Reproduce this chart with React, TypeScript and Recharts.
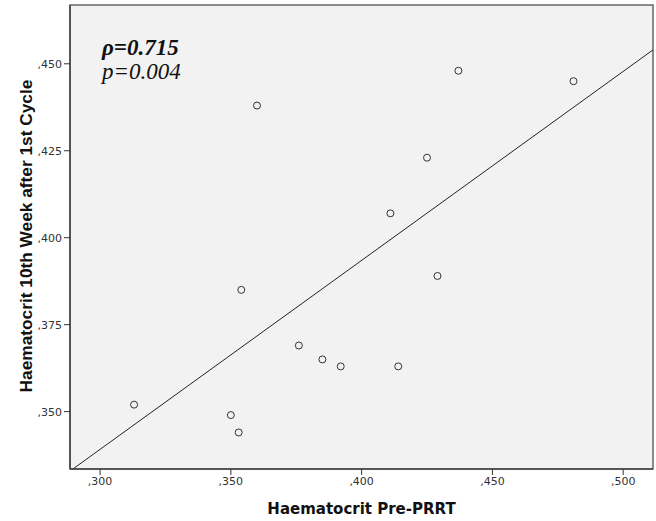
import {
  Label,
  ReferenceArea,
  ReferenceLine,
  Scatter,
  ScatterChart,
  XAxis,
  YAxis,
} from "recharts";

// Haematocrit pre-PRRT vs 10th week after 1st cycle
const preValues = [0.313, 0.35, 0.353, 0.354, 0.36, 0.376, 0.385, 0.392, 0.411, 0.414, 0.425, 0.429, 0.437, 0.481];
const week10Values = [0.352, 0.349, 0.344, 0.385, 0.438, 0.369, 0.365, 0.363, 0.407, 0.363, 0.423, 0.389, 0.448, 0.445];

const xTicks = [0.3, 0.35, 0.4, 0.45, 0.5];
const yTicks = [0.35, 0.375, 0.4, 0.425, 0.45];

const xDomain = [0.2885, 0.5114];
const yDomain = [0.3335, 0.4669];

// fit line end points
const fitLine = [
  { x: 0.2896, y: 0.3335 },
  { x: 0.5114, y: 0.454 },
];

const points = preValues.map((x, i) => ({ x, y: week10Values[i] }));

const fmt = (v: number) => "," + v.toFixed(3).slice(2);

const tickStyle = { fontFamily: "DejaVu Sans", fontSize: 11, fill: "#333" };

function Circle(props: any) {
  return <circle cx={props.cx} cy={props.cy} r={3.5} fill="none" stroke="#333" strokeWidth={1} />;
}

export default function App() {
  return (
    <div style={{ position: "absolute", left: 0, top: 0, width: 656, height: 521, background: "#fff" }}>
      <ScatterChart width={656} height={521} margin={{ top: 5, right: 3, bottom: 0, left: 0 }}>
        <ReferenceArea
          x1={xDomain[0]}
          x2={xDomain[1]}
          y1={yDomain[0]}
          y2={yDomain[1]}
          fill="#f2f2f2"
          fillOpacity={1}
          stroke="#666"
          strokeWidth={1.5}
        />
        <XAxis
          type="number"
          dataKey="x"
          domain={xDomain}
          ticks={xTicks}
          tickFormatter={fmt}
          height={52}
          tick={tickStyle}
          tickSize={6}
          tickLine={{ stroke: "#333" }}
          axisLine={{ stroke: "#444", strokeWidth: 1.5 }}
          allowDataOverflow
        >
          <Label
            content={() => (
              <text
                x={361.5}
                y={514}
                textAnchor="middle"
                style={{ fontFamily: "DejaVu Sans", fontWeight: "bold", fontSize: 15, fill: "#111" }}
              >
                Haematocrit Pre-PRRT
              </text>
            )}
          />
        </XAxis>
        <YAxis
          type="number"
          dataKey="y"
          domain={yDomain}
          ticks={yTicks}
          tickFormatter={fmt}
          width={70}
          tick={tickStyle}
          tickSize={6}
          tickLine={{ stroke: "#333" }}
          axisLine={{ stroke: "#444", strokeWidth: 1.5 }}
          allowDataOverflow
        >
          <Label
            content={() => (
              <text
                x={32}
                y={236}
                textAnchor="middle"
                transform="rotate(-90 32 236)"
                style={{ fontFamily: "Liberation Sans", fontWeight: "bold", fontSize: 17.3, fill: "#111" }}
              >
                Haematocrit 10th Week after 1st Cycle
              </text>
            )}
          />
        </YAxis>
        <ReferenceLine
          segment={fitLine}
          stroke="#222"
          strokeWidth={1}
          ifOverflow="hidden"
        />
        <Scatter data={points} shape={Circle} isAnimationActive={false} />
      </ScatterChart>
      <div
        style={{
          position: "absolute",
          left: 102,
          top: 36,
          fontFamily: "Liberation Serif",
          fontSize: 23,
          lineHeight: "24px",
          fontStyle: "italic",
          color: "#111",
        }}
      >
        <div style={{ fontWeight: "bold" }}>ρ=0.715</div>
        <div>p=0.004</div>
      </div>
    </div>
  );
}
